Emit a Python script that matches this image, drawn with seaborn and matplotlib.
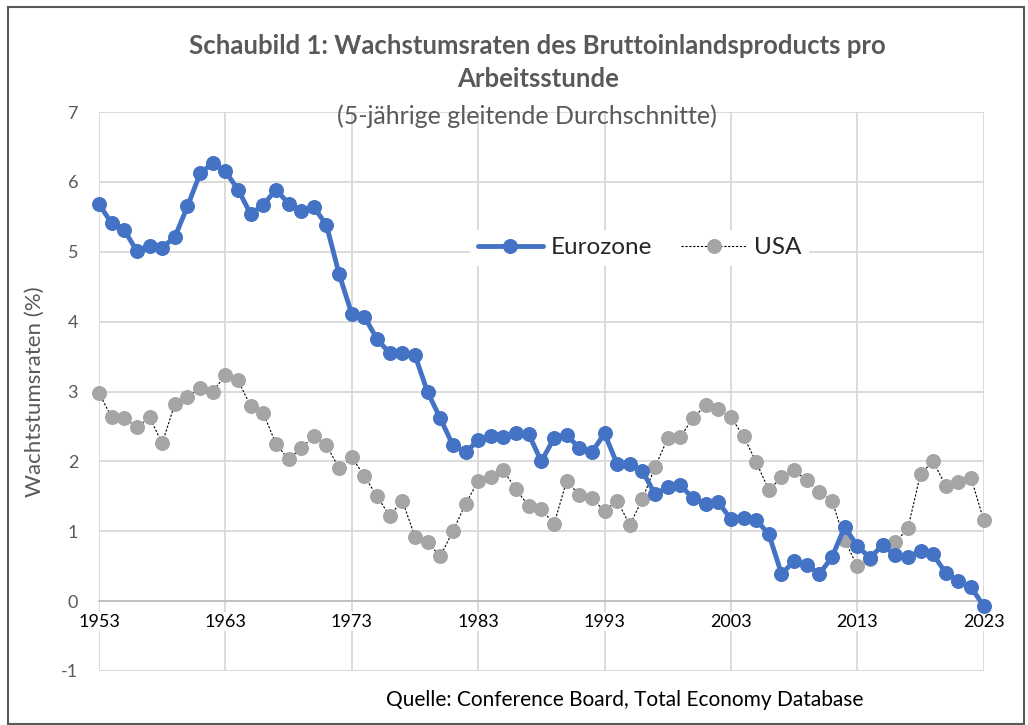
import numpy as np
import pandas as pd
import matplotlib.pyplot as plt
import seaborn as sns
from matplotlib.patches import Rectangle

# Daten
jahre = list(range(1953, 2024))
eurozone = [5.68, 5.41, 5.31, 5.01, 5.08, 5.06, 5.21, 5.65, 6.12, 6.27,
            6.15, 5.89, 5.54, 5.67, 5.89, 5.69, 5.59, 5.64, 5.38, 4.68,
            4.11, 4.07, 3.75, 3.55, 3.55, 3.52, 2.99, 2.62, 2.23, 2.13,
            2.30, 2.37, 2.35, 2.40, 2.39, 2.00, 2.33, 2.38, 2.19, 2.13,
            2.40, 1.96, 1.96, 1.86, 1.53, 1.63, 1.66, 1.47, 1.39, 1.42,
            1.17, 1.19, 1.16, 0.96, 0.39, 0.57, 0.52, 0.39, 0.63, 1.06,
            0.79, 0.62, 0.80, 0.66, 0.63, 0.72, 0.67, 0.40, 0.29, 0.20,
            -0.07]
usa = [2.98, 2.63, 2.62, 2.49, 2.63, 2.26, 2.82, 2.92, 3.05, 3.00,
       3.23, 3.16, 2.79, 2.69, 2.25, 2.03, 2.19, 2.36, 2.23, 1.90,
       2.06, 1.79, 1.50, 1.22, 1.44, 0.92, 0.84, 0.64, 1.00, 1.39,
       1.72, 1.77, 1.87, 1.60, 1.36, 1.32, 1.10, 1.72, 1.52, 1.47,
       1.29, 1.44, 1.09, 1.46, 1.92, 2.33, 2.35, 2.62, 2.80, 2.75,
       2.63, 2.36, 1.99, 1.59, 1.77, 1.87, 1.73, 1.56, 1.44, 0.87,
       0.50, 0.60, 0.80, 0.84, 1.04, 1.82, 2.00, 1.65, 1.70, 1.76,
       1.16]
x_ticks = list(range(1953, 2024, 10))
y_ticks = list(range(-1, 8))

df = pd.DataFrame({'Jahr': jahre, 'Eurozone': eurozone, 'USA': usa})

sns.set_theme(style='white')
plt.rcParams['font.family'] = ['Lato', 'DejaVu Sans']
plt.rcParams['axes.unicode_minus'] = False

fig = plt.figure(figsize=(10.28, 7.25), dpi=100)
ax = fig.add_axes([0.0963, 0.0745, 0.8606, 0.771])

grau = '#595959'
gitter = '#d9d9d9'

sns.lineplot(data=df, x='Jahr', y='USA', ax=ax, color='black', linewidth=0.8,
             linestyle=(0, (2, 1.5)), marker='o', markersize=10,
             markerfacecolor='#a5a5a5', markeredgecolor='#a5a5a5',
             label='USA', clip_on=False, zorder=3)
sns.lineplot(data=df, x='Jahr', y='Eurozone', ax=ax, color='#4472c4', linewidth=3.5,
             marker='o', markersize=10, markeredgecolor='#4472c4',
             label='Eurozone', clip_on=False, zorder=4)

ax.set_xlim(1953, 2023)
ax.set_ylim(-1, 7)
ax.set_xticks(x_ticks)
ax.set_yticks(y_ticks)
ax.grid(True, color=gitter, linewidth=1.3)
ax.set_axisbelow(True)
for s in ['top', 'right', 'left']:
    ax.spines[s].set_visible(False)
ax.spines['bottom'].set_position(('data', 0))
ax.spines['bottom'].set_color('#bfbfbf')
ax.spines['bottom'].set_linewidth(1.3)
ax.axhline(-1, color=gitter, linewidth=1.3, zorder=0)

ax.tick_params(axis='x', length=0, pad=9, labelsize=13, labelcolor='black')
ax.tick_params(axis='y', length=0, pad=15, labelsize=13, labelcolor=grau)
for lab in ax.get_xticklabels():
    lab.set_bbox(dict(facecolor='white', edgecolor='none', pad=1))

ax.set_xlabel('')
ax.set_ylabel('Wachtstumsraten (%)', fontsize=16, color=grau, labelpad=12)

handles, labels = ax.get_legend_handles_labels()
leg = ax.legend(handles[::-1], labels[::-1], loc='center', bbox_to_anchor=(0.611, 0.757),
                ncol=2, fontsize=17.5, frameon=True, facecolor='white', edgecolor='none',
                framealpha=1, handlelength=2.7, columnspacing=1.2, handletextpad=0.3,
                borderpad=0.3)
leg.set_zorder(5)

fig.text(0.523, 0.937, 'Schaubild 1: Wachstumsraten des Bruttoinlandsproducts pro',
         ha='center', va='center', fontsize=18.5, fontweight='bold', color=grau)
fig.text(0.523, 0.891, 'Arbeitsstunde',
         ha='center', va='center', fontsize=18.5, fontweight='bold', color=grau)
fig.text(0.513, 0.840, '(5-jährige gleitende Durchschnitte)',
         ha='center', va='center', fontsize=18, color=grau)
fig.text(0.608, 0.034, 'Quelle: Conference Board, Total Economy Database',
         ha='center', va='center', fontsize=15, color='black')

fig.patches.append(Rectangle((0.008, 0.001), 0.988, 0.99, transform=fig.transFigure,
                             fill=False, edgecolor='#595959', linewidth=1.5))

fig.savefig('out.png', dpi=100)
